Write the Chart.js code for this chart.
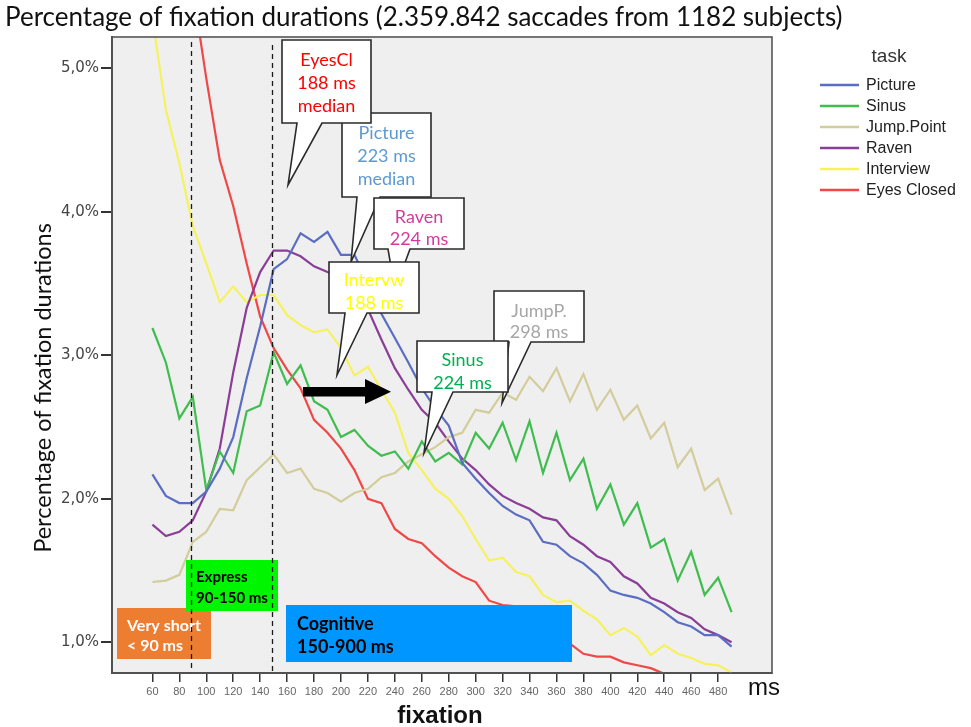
<!DOCTYPE html>
<html><head><meta charset="utf-8">
<script src="https://cdn.jsdelivr.net/npm/chart.js@4.4.1/dist/chart.umd.min.js"></script>
<style>html,body{margin:0;padding:0;background:#fff;}canvas{display:block;}</style>
</head><body>
<canvas id="c" width="971" height="727"></canvas>
<script>
// ---------- data ----------
const fixationMs = [60,70,80,90,100,110,120,130,140,150,160,170,180,190,200,210,220,230,240,250,260,270,280,290,300,310,320,330,340,350,360,370,380,390,400,410,420,430,440,450,460,470,480,490];
const picture = [2.17,2.02,1.97,1.97,2.05,2.21,2.43,2.84,3.20,3.60,3.67,3.85,3.79,3.86,3.70,3.70,3.50,3.29,3.12,2.95,2.77,2.63,2.51,2.25,2.14,2.04,1.95,1.89,1.85,1.70,1.68,1.60,1.55,1.47,1.36,1.33,1.31,1.27,1.21,1.14,1.11,1.05,1.05,0.97];
const sinus = [3.19,2.95,2.56,2.71,2.06,2.33,2.18,2.61,2.65,3.02,2.80,2.93,2.68,2.62,2.43,2.48,2.37,2.30,2.33,2.21,2.40,2.26,2.32,2.24,2.46,2.35,2.53,2.27,2.54,2.18,2.46,2.13,2.28,1.93,2.10,1.82,1.97,1.66,1.72,1.43,1.63,1.33,1.45,1.21];
const jumpPoint = [1.42,1.43,1.47,1.70,1.77,1.93,1.92,2.13,2.22,2.31,2.18,2.21,2.07,2.04,1.98,2.04,2.07,2.15,2.18,2.26,2.31,2.36,2.43,2.46,2.62,2.60,2.74,2.69,2.85,2.75,2.91,2.68,2.87,2.62,2.76,2.55,2.65,2.42,2.53,2.22,2.35,2.06,2.14,1.89];
const raven = [1.82,1.74,1.77,1.85,2.05,2.35,2.88,3.33,3.58,3.73,3.73,3.69,3.62,3.58,3.55,3.47,3.32,3.11,2.91,2.76,2.62,2.53,2.40,2.28,2.20,2.10,2.02,1.97,1.93,1.87,1.85,1.74,1.68,1.60,1.56,1.46,1.41,1.31,1.27,1.21,1.17,1.09,1.05,1.00];
const interview = [5.35,4.71,4.34,3.90,3.64,3.37,3.48,3.37,3.42,3.42,3.28,3.21,3.16,3.18,3.05,2.86,2.92,2.76,2.60,2.32,2.20,2.07,2.00,1.88,1.72,1.57,1.59,1.49,1.46,1.33,1.28,1.29,1.22,1.16,1.05,1.10,1.04,0.91,0.98,0.92,0.89,0.85,0.84,0.79];
const eyesClosed = [null,null,null,5.55,4.93,4.36,4.04,3.64,3.27,3.05,2.90,2.77,2.55,2.46,2.35,2.20,2.00,1.97,1.79,1.72,1.69,1.60,1.52,1.46,1.42,1.29,1.26,1.25,1.18,1.12,1.07,0.99,0.92,0.90,0.90,0.86,0.84,0.82,0.78,null,null,null,null,null];
const seriesNames = ['Picture','Sinus','Jump.Point','Raven','Interview','Eyes Closed'];
const seriesValues = [picture, sinus, jumpPoint, raven, interview, eyesClosed];
const xTickValues = [60,80,100,120,140,160,180,200,220,240,260,280,300,320,340,360,380,400,420,440,460,480];
const yTickValues = [1,2,3,4,5];
const yTickLabels = ['1,0%','2,0%','3,0%','4,0%','5,0%'];
const phaseLimitsMs = [89,149];

// ---------- styles ----------
const seriesColors = ['#5a6dc2','#3fbd4e','#d3cc9b','#8a3e97','#f6f25e','#f04848'];

const callouts = [
  {x:342,y:113,w:89,h:84,b1:357,b2:380,tip:[351,262],lines:['Picture','223 ms','median'],ys:[133,156,179],color:'#5b9bd5'},
  {x:282,y:40,w:89,h:83,b1:297,b2:322,tip:[288,185],lines:['EyesCl','188 ms','median'],ys:[60,83,106],color:'#ff0000'},
  {x:374,y:198,w:90,h:51,b1:388,b2:410,tip:[395,290],lines:['Raven','224 ms'],ys:[217,239],color:'#d23c9f'},
  {x:329,y:262,w:90,h:51,b1:345,b2:367,tip:[337,375],lines:['Intervw','188 ms'],ys:[280,303],color:'#ffff00'},
  {x:494,y:291,w:90,h:51,b1:509,b2:531,tip:[502,403],lines:['JumpP.','298 ms'],ys:[311,332],color:'#a6a6a6'},
  {x:417,y:341,w:91,h:51,b1:432,b2:453,tip:[424,453],lines:['Sinus','224 ms'],ys:[360,383],color:'#00b050'}
];
const regions = [
  {x:117,y:608,w:94,h:51,fill:'#ed7d31',text:'#ffffff',size:16,tx:127,lines:['Very short','< 90 ms'],ys:[626,646]},
  {x:186,y:560,w:92,h:51,fill:'#00f500',text:'#000000',size:15,tx:196,lines:['Express','90-150 ms'],ys:[577,598]},
  {x:286,y:605,w:286,h:57,fill:'#0096ff',text:'#000000',size:18,tx:297,lines:['Cognitive','150-900 ms'],ys:[624,647]}
];

function fitSize(ctx, text, font, target){
  ctx.font = font.replace('SIZE','100px');
  return 100*target/ctx.measureText(text).width;
}

const decor = {
  id:'decor',
  beforeDraw(chart){
    const {ctx, chartArea:a} = chart;
    ctx.save();
    ctx.fillStyle='#ffffff'; ctx.fillRect(0,0,chart.width,chart.height);
    ctx.fillStyle='#efefef'; ctx.fillRect(a.left,a.top,a.right-a.left,a.bottom-a.top);
    ctx.restore();
  },
  afterDatasetsDraw(chart){
    const {ctx, chartArea:a, scales} = chart;
    ctx.save();
    regions.forEach(r=>{
      ctx.fillStyle=r.fill; ctx.fillRect(r.x,r.y,r.w,r.h);
      ctx.fillStyle=r.text; ctx.font='bold '+r.size+'px Lato'; ctx.textAlign='left'; ctx.textBaseline='middle';
      r.lines.forEach((t,i)=>ctx.fillText(t,r.tx,r.ys[i]));
    });
    ctx.strokeStyle='#1a1a1a'; ctx.lineWidth=1.3; ctx.setLineDash([5,4]);
    phaseLimitsMs.forEach((v,i)=>{
      const px=Math.round(scales.x.getPixelForValue(v))+0.5;
      ctx.beginPath(); ctx.moveTo(px,a.top+5+i*3); ctx.lineTo(px,a.bottom); ctx.stroke();
    });
    ctx.setLineDash([]);
    callouts.forEach(c=>{
      ctx.beginPath();
      ctx.moveTo(c.x,c.y); ctx.lineTo(c.x+c.w,c.y); ctx.lineTo(c.x+c.w,c.y+c.h);
      ctx.lineTo(c.b2,c.y+c.h); ctx.lineTo(c.tip[0],c.tip[1]); ctx.lineTo(c.b1,c.y+c.h);
      ctx.lineTo(c.x,c.y+c.h); ctx.closePath();
      ctx.fillStyle='#ffffff'; ctx.fill();
      ctx.strokeStyle='#2a2a2a'; ctx.lineWidth=1.6; ctx.stroke();
      ctx.fillStyle=c.color; ctx.font='18px Lato'; ctx.textAlign='center'; ctx.textBaseline='middle';
      c.lines.forEach((t,i)=>ctx.fillText(t,c.x+c.w/2,c.ys[i]));
    });
    ctx.fillStyle='#000';
    ctx.fillRect(303,387,64,9.5);
    ctx.beginPath(); ctx.moveTo(365,379); ctx.lineTo(391,391.7); ctx.lineTo(365,404); ctx.closePath(); ctx.fill();
    ctx.strokeStyle='#555'; ctx.lineWidth=1.6;
    ctx.strokeRect(a.left,a.top,a.right-a.left,a.bottom-a.top);
    ctx.restore();
  },
  afterDraw(chart){
    const {ctx} = chart;
    ctx.save();
    ctx.fillStyle='#111'; ctx.textBaseline='middle'; ctx.textAlign='left';
    const title='Percentage of fixation durations (2.359.842 saccades from 1182 subjects)';
    const ts=fitSize(ctx,title,'SIZE Lato',838);
    ctx.font=ts+'px Lato'; ctx.fillText(title,5,18);
    const yt='Percentage of fixation durations';
    const ys=fitSize(ctx,yt,'SIZE Lato',330);
    ctx.save(); ctx.translate(43,388); ctx.rotate(-Math.PI/2);
    ctx.font=ys+'px Lato'; ctx.textAlign='center'; ctx.fillText(yt,0,0); ctx.restore();
    ctx.font='bold 24px "Liberation Sans"'; ctx.textAlign='center'; ctx.fillStyle='#111';
    ctx.fillText('fixation',440,716);
    ctx.font='24px "Liberation Sans"'; ctx.textAlign='left';
    ctx.fillText('ms',748,688);
    ctx.fillStyle='#333'; ctx.font='19px "Liberation Sans"'; ctx.textAlign='center';
    ctx.fillText('task',889,57);
    ctx.font='16px "Liberation Sans"'; ctx.textAlign='left';
    seriesNames.forEach((n,i)=>{
      const y=85+i*21;
      ctx.strokeStyle=seriesColors[i]; ctx.lineWidth=2.5;
      ctx.beginPath(); ctx.moveTo(820,y); ctx.lineTo(859,y); ctx.stroke();
      ctx.fillStyle='#222'; ctx.fillText(n,866,y+1);
    });
    ctx.restore();
  }
};

new Chart(document.getElementById('c'), {
  type:'line',
  data:{
    datasets: seriesNames.map((n,i)=>({
      label:n,
      data: fixationMs.map((x,j)=>({x:x,y:seriesValues[i][j]})),
      borderColor:seriesColors[i], backgroundColor:seriesColors[i],
      borderWidth:2.2, pointRadius:0, tension:0, fill:false, spanGaps:false
    }))
  },
  options:{
    responsive:false, animation:false, devicePixelRatio:1,
    layout:{padding:{left:0,top:37,right:199,bottom:0}},
    plugins:{legend:{display:false},title:{display:false},tooltip:{enabled:false}},
    scales:{
      x:{type:'linear',min:30,max:520,
        afterFit:s=>{s.height=54;},
        afterBuildTicks:s=>{s.ticks=xTickValues.map(v=>({value:v}));},
        ticks:{autoSkip:false,maxRotation:0,padding:3,color:'#666',font:{family:'Liberation Sans',size:11},callback:v=>String(v)},
        grid:{drawOnChartArea:false,drawTicks:true,tickLength:9,color:'#333',lineWidth:1.5},
        border:{display:true,color:'#444',width:2}},
      y:{type:'linear',min:0.786,max:5.218,
        afterFit:s=>{s.width=112;},
        afterBuildTicks:s=>{s.ticks=yTickValues.map(v=>({value:v}));},
        ticks:{padding:2,color:'#444',font:{family:'DejaVu Sans',size:15},callback:v=>yTickLabels[yTickValues.indexOf(v)]},
        grid:{drawOnChartArea:false,drawTicks:true,tickLength:11,color:'#333',lineWidth:2},
        border:{display:true,color:'#444',width:2}}
    }
  },
  plugins:[decor]
});
</script>
</body></html>
